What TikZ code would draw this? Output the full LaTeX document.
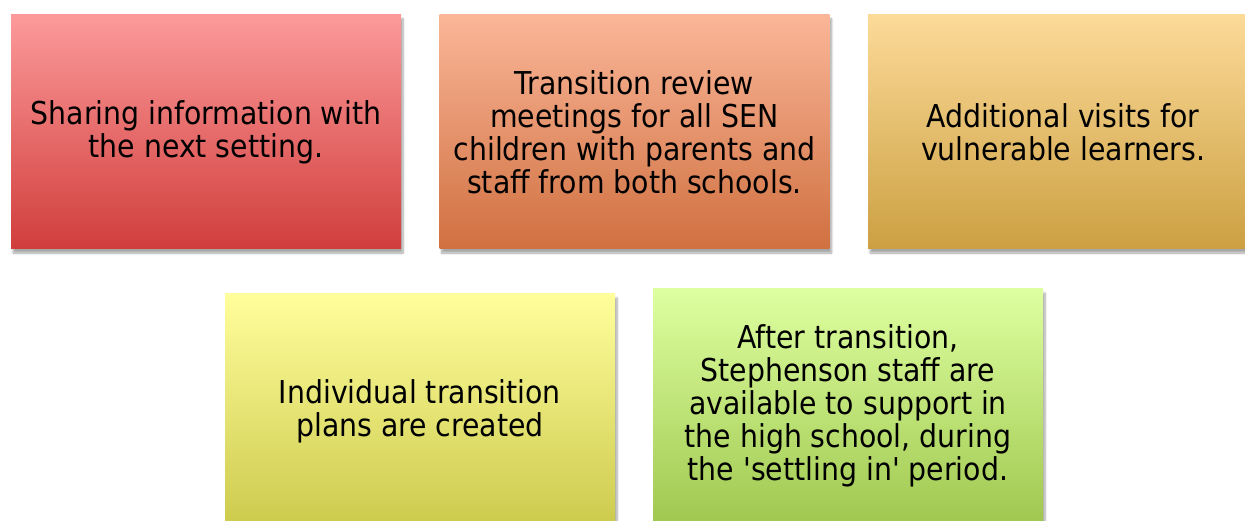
\documentclass[tikz,border=0pt]{standalone}
\usepackage{fontspec}
\setmainfont{DejaVu Sans Condensed}[Ligatures=TeXOff]
\usetikzlibrary{shadows.blur}

\begin{document}
\begin{tikzpicture}[x=1pt,y=-1pt,
    stagebox/.style={minimum width=390pt,minimum height=234pt,inner sep=0pt,align=center,
        font=\fontsize{31.5}{33}\selectfont,
        blur shadow={shadow xshift=2pt,shadow yshift=-4pt,shadow blur steps=6,shadow opacity=35}}]
        \useasboundingbox (0,0) rectangle (1245,521);
        % 绘制上排方框
        \node[stagebox,top color={rgb,255:red,252;green,154;blue,154},bottom color={rgb,255:red,208;green,62;blue,60}] (share) at (206,132)
            {Sharing information with\\the next setting.};
        \node[stagebox,top color={rgb,255:red,250;green,182;blue,152},bottom color={rgb,255:red,208;green,112;blue,64}] (review) at (634.5,132)
            {Transition review\\meetings for all SEN\\children with parents and\\staff from both schools.};
        \node[stagebox,top color={rgb,255:red,252;green,218;blue,152},bottom color={rgb,255:red,204;green,160;blue,66}] (visits) at (1063,132)
            {Additional visits for\\vulnerable learners.};
        % 绘制下排方框
        \node[stagebox,top color={rgb,255:red,255;green,254;blue,156},bottom color={rgb,255:red,204;green,202;blue,76}] (plans) at (420,411)
            {Individual transition\\plans are created};
        \node[stagebox,top color={rgb,255:red,222;green,255;blue,160},bottom color={rgb,255:red,160;green,200;blue,80}] (after) at (848,406)
            {After transition,\\Stephenson staff are\\available to support in\\the high school, during\\the 'settling in' period.};
    \end{tikzpicture}
\end{document}
